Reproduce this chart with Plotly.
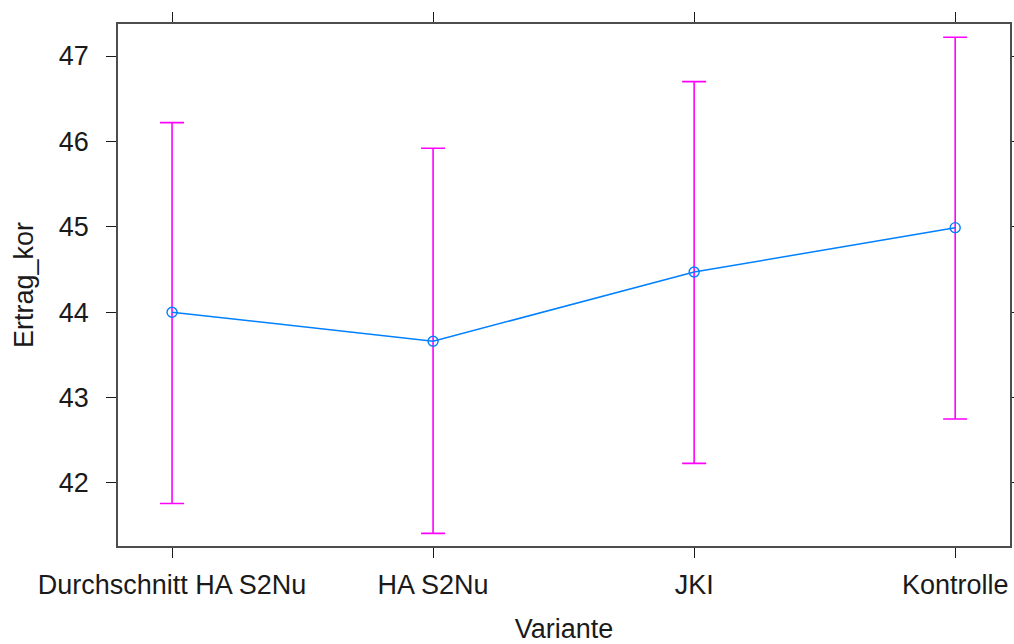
import plotly.graph_objects as go

categories = ["Durchschnitt HA S2Nu", "HA S2Nu", "JKI", "Kontrolle"]
means = [44.0, 43.66, 44.47, 44.99]
upper = [46.22, 45.92, 46.70, 47.22]
lower = [41.76, 41.41, 42.23, 42.75]
y_ticks = [42, 43, 44, 45, 46, 47]

xidx = list(range(len(categories)))
err_plus = [u - m for u, m in zip(upper, means)]
err_minus = [m - l for m, l in zip(means, lower)]

fig = go.Figure()
fig.add_trace(go.Scatter(
    x=xidx, y=means, mode="markers",
    marker=dict(size=1, color="rgba(0,0,0,0)"),
    error_y=dict(type="data", symmetric=False, array=err_plus, arrayminus=err_minus,
                 color="#ff00ff", thickness=1.6, width=12),
    hoverinfo="skip", showlegend=False,
))
fig.add_trace(go.Scatter(
    x=xidx, y=means, mode="lines+markers",
    line=dict(color="#0080ff", width=1.5),
    marker=dict(symbol="circle-open", size=10, color="#0080ff", line=dict(width=1.4)),
    showlegend=False,
))

FONT = "Liberation Sans, Arial, sans-serif"
axis_font = dict(family=FONT, size=27, color="#1a1a1a")
title_font = dict(family=FONT, size=27, color="#1a1a1a")
fig.update_layout(
    width=1014, height=644, autosize=False,
    margin=dict(l=118, r=4, t=24, b=98, pad=0, autoexpand=False),
    paper_bgcolor="white", plot_bgcolor="white",
    font=axis_font,
    xaxis=dict(
        range=[-0.207, 3.21], tickvals=xidx, ticktext=categories, automargin=False,
        showline=True, linecolor="#4d4d4d", linewidth=1.6, mirror="ticks",
        ticks="outside", ticklen=10, tickcolor="#1a1a1a", tickwidth=1.4,
        showgrid=False, zeroline=False, tickfont=axis_font, ticklabelstandoff=4,
        title=dict(text="Variante", font=title_font, standoff=21),
    ),
    yaxis=dict(
        range=[41.262, 47.375], tickvals=y_ticks, automargin=False,
        showline=True, linecolor="#4d4d4d", linewidth=1.6, mirror="ticks",
        ticks="outside", ticklen=10, tickcolor="#1a1a1a", tickwidth=1.4,
        showgrid=False, zeroline=False, tickfont=axis_font, ticklabelstandoff=12,
        title=dict(text="Ertrag_kor", font=title_font, standoff=17),
    ),
)

fig.write_html("out.html", config={"displayModeBar": False, "responsive": False},
               post_script="document.body.style.margin='0';document.body.style.overflow='hidden';")
